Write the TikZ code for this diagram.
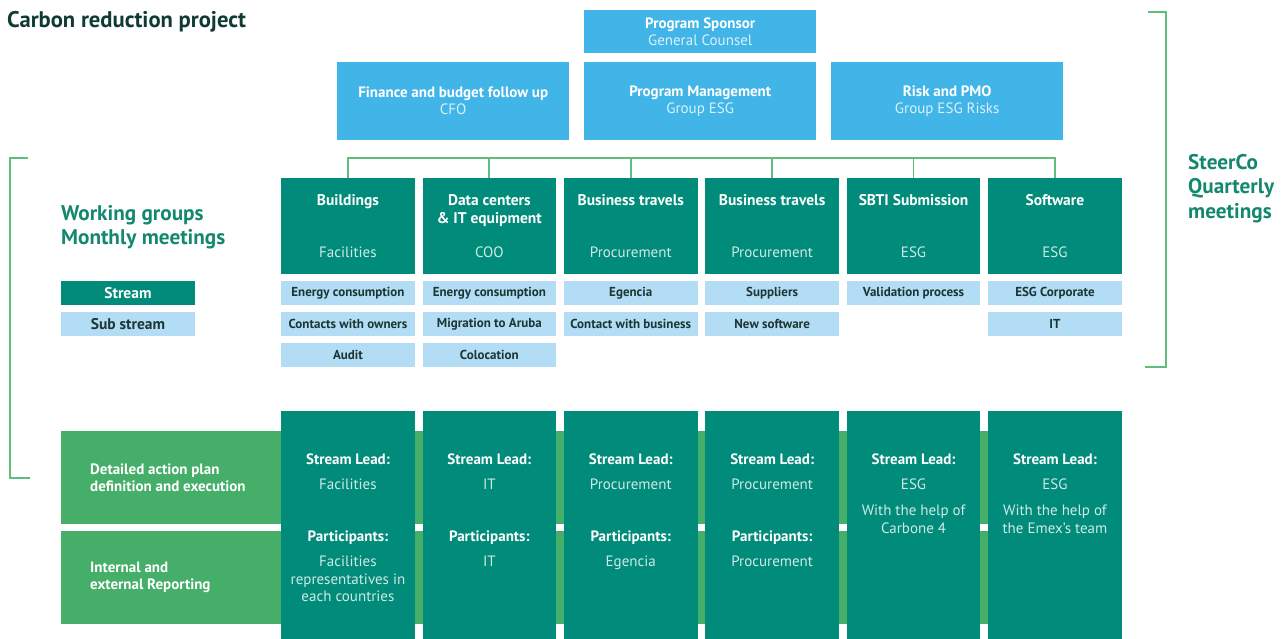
\documentclass[tikz,border=0pt]{standalone}
\usepackage{fontspec}
\setmainfont{PT Sans}
\usetikzlibrary{positioning}
\definecolor{deepteal}{HTML}{008B7A}
\definecolor{sky}{HTML}{41B5E7}
\definecolor{pale}{HTML}{B3DDF4}
\definecolor{bandgreen}{HTML}{45AE68}
\definecolor{rulegreen}{HTML}{60BE7D}
\definecolor{ink}{HTML}{0F3B33}
\definecolor{headteal}{HTML}{14876F}
\definecolor{subink}{HTML}{1E3535}
\definecolor{softteal}{HTML}{D0EAE5}
\definecolor{softsky}{HTML}{DCF1FB}
\begin{document}
\begin{tikzpicture}[x=1pt,y=-1pt,
cellbox/.style={anchor=north west,inner sep=0pt,minimum width=133.5pt},
sponsorbox/.style={anchor=north west,inner sep=0pt,fill=sky,text=softsky,minimum width=232pt,align=center,font=\fontsize{15}{17}\selectfont},
streambox/.style={cellbox,fill=deepteal,minimum height=96pt},
subbox/.style={cellbox,fill=pale,minimum height=24pt,text=subink,font=\fontsize{13}{15}\selectfont\bfseries},
leadcol/.style={cellbox,fill=deepteal,minimum height=228pt},
bandbox/.style={anchor=north west,inner sep=0pt,fill=bandgreen,minimum width=1059pt,minimum height=93pt},
whitetext/.style={anchor=north,inner sep=0pt,align=center,text=white,font=\fontsize{15}{17.5}\selectfont},
bandtext/.style={anchor=west,inner sep=0pt,align=left,text=white,font=\fontsize{15}{17}\selectfont\bfseries},
headtext/.style={anchor=north west,inner sep=0pt,align=left,text=headteal,font=\fontsize{21.2}{24.5}\selectfont\bfseries},
busline/.style={draw=rulegreen,line width=1.8pt},
bracket/.style={draw=rulegreen,line width=1.8pt}]
\useasboundingbox (0,0) rectangle (1288,639);
\node[anchor=north west,inner sep=0pt,text=ink,font=\fontsize{22.6}{24}\selectfont\bfseries] (title) at (7,11) {Carbon reduction project};
\node[sponsorbox,minimum height=43pt] (sponsor) at (584,10) {\textcolor{white}{\textbf{Program Sponsor}}\\General Counsel};
\foreach \n/\x/\a/\b in {fin/337/Finance and budget follow up/CFO,pm/584/Program Management/Group ESG,risk/831/Risk and PMO/Group ESG Risks}
\node[sponsorbox,minimum height=78pt] (\n) at (\x,62) {\textcolor{white}{\textbf{\a}}\\\b};
\foreach \i/\t/\u in {1/Buildings/Facilities,2/{Data centers\\\& IT equipment}/COO,3/Business travels/Procurement,4/Business travels/Procurement,5/SBTI Submission/ESG,6/Software/ESG}{
\node[streambox] (s\i) at ({281+(\i-1)*141.4},178) {};
\node[whitetext,font=\fontsize{15.5}{18}\selectfont\bfseries,below=16pt of s\i.north] (t\i) {\t};
\node[whitetext,text=softteal,font=\fontsize{15}{18}\selectfont,above=17pt of s\i.south,anchor=base] (u\i) {\u};
}
\draw[busline] (s1.north) -- ++(0,-20) -| (s6.north);
\foreach \i in {2,...,5}{\draw[busline] (s\i.north) -- ++(0,-20);}
\foreach \i/\r/\t in {1/1/Energy consumption,1/2/Contacts with owners,1/3/Audit,2/1/Energy consumption,2/2/Migration to Aruba,2/3/Colocation,3/1/Egencia,3/2/Contact with business,4/1/Suppliers,4/2/New software,5/1/Validation process,6/1/ESG Corporate,6/2/IT}
\node[subbox] (r\i\r) at ({281+(\i-1)*141.4},{281+(\r-1)*31}) {\t};
\node[subbox,fill=deepteal,text=white,font=\fontsize{15.5}{17}\selectfont\bfseries] (keystream) at (61,281) {Stream};
\node[subbox,font=\fontsize{15.5}{17}\selectfont\bfseries] (keysub) at (61,312) {Sub stream};
\node[headtext] (working) at (61,205) {Working groups\\Monthly meetings};
\node[headtext] (steerco) at (1188,154) {SteerCo\\Quarterly\\meetings};
\draw[bracket] (28,158) -- (10,158) -- (10,478) -- (30,478);
\draw[bracket] (1148,12) -- (1166,12) -- (1166,367) -- (1145,367);
\node[bandbox] (b1) at (61,431) {};
\node[bandbox] (b2) at (61,531) {};
\node[bandtext,right=29pt of b1.west] (bt1) {Detailed action plan\\definition and execution};
\node[bandtext,right=29pt of b2.west] (bt2) {Internal and\\external Reporting};
\foreach \i in {1,...,6}{\node[leadcol] (c\i) at ({281+(\i-1)*141.4},411) {};}
\foreach \i/\l in {1/Facilities,2/IT,3/Procurement,4/Procurement,5/{ESG\\[8.5pt]With the help of\\Carbone 4},6/{ESG\\[8.5pt]With the help of\\the Emex's team}}
\node[whitetext,text=softteal,below=43pt of c\i.north] (l\i) {\textcolor{white}{\textbf{Stream Lead:}}\\[7.5pt]\l};
\foreach \i/\p in {1/{Facilities\\representatives in\\each countries},2/IT,3/Egencia,4/Procurement}
\node[whitetext,text=softteal,below=120pt of c\i.north] (p\i) {\textcolor{white}{\textbf{Participants:}}\\[7.5pt]\p};
\end{tikzpicture}
\end{document}
